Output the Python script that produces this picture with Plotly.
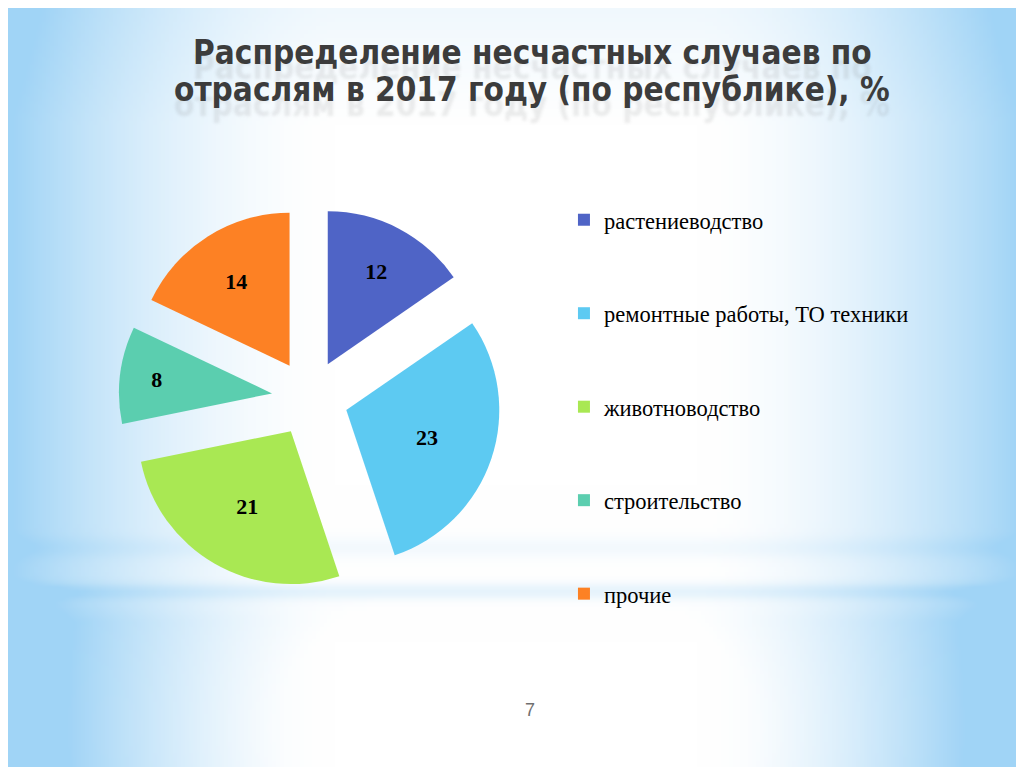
import base64
import struct
import zlib

import numpy as np
import plotly.graph_objects as go

# data
categories = ['растениеводство', 'ремонтные работы, ТО техники', 'животноводство',
              'строительство', 'прочие']
values = [12, 23, 21, 8, 14]
colors = ['#4F64C6', '#5DCAF2', '#A9E853', '#5BCEAF', '#FD8124']
title_lines = ['Распределение несчастных случаев по',
               'отраслям в 2017 году (по республике), %']
page_number = '7'

# the page body keeps its default 8px margin, so the figure is 16px smaller
W_PX, H_PX = 1016, 759


def make_png(arr):
    # tiny png encoder so the slide background can go in as a data uri
    h, w, _ = arr.shape
    raw = b''.join(b'\x00' + arr[i].tobytes() for i in range(h))

    def chunk(tag, data):
        c = struct.pack('>I', len(data)) + tag + data
        return c + struct.pack('>I', zlib.crc32(tag + data) & 0xffffffff)

    png = b'\x89PNG\r\n\x1a\n'
    png += chunk(b'IHDR', struct.pack('>IIBBBBB', w, h, 8, 2, 0, 0, 0))
    png += chunk(b'IDAT', zlib.compress(raw, 9))
    png += chunk(b'IEND', b'')
    return 'data:image/png;base64,' + base64.b64encode(png).decode()


# light blue slide background: blue edges, white middle, thin streaks near the bottom
bw, bh = 256, 192
xx, yy = np.meshgrid(np.linspace(0, 1, bw), np.linspace(0, 1, bh))
edge = np.clip(1 - np.minimum(xx, 1 - xx) / 0.32, 0, 1) ** 1.7
top = np.clip(1 - yy / 0.15, 0, 1) * 0.15
band = 0.26 * np.exp(-((yy - 0.770) / 0.011) ** 2) + 0.12 * np.exp(-((yy - 0.712) / 0.014) ** 2)
ell = np.sqrt(((xx - 0.5) / 0.24) ** 2 + ((yy - 0.95) / 0.2) ** 2)
lower = np.clip((yy - 0.76) / 0.05, 0, 1) * np.clip((ell - 1) / 1.4, 0, 1) * 0.45
wgt = np.clip(edge + top + band + lower, 0, 1)
blue = np.array([160, 212, 246])
white = np.array([255, 255, 255])
bg = (white * (1 - wgt[..., None]) + blue * wgt[..., None]).astype(np.uint8)

# legend rows are spaced far apart on the slide, padded with blank lines
legend_labels = [' <br><span style="font-size:22.5px">%s</span><br> ' % c for c in categories]

fig = go.Figure()
fig.add_trace(go.Pie(
    labels=legend_labels,
    values=values,
    sort=False,
    direction='clockwise',
    rotation=0,
    pull=[0.25] * len(values),
    marker=dict(colors=colors, line=dict(width=0)),
    textinfo='value',
    textposition='inside',
    insidetextorientation='horizontal',
    textfont=dict(family='Liberation Serif', size=22, color='black', weight='bold'),
    domain=dict(x=[0.1090, 0.4855], y=[0.2342, 0.7381]),
    hoverinfo='skip',
))

fig.update_layout(
    width=W_PX, height=H_PX,
    margin=dict(l=0, r=0, t=0, b=0),
    paper_bgcolor='white',
    plot_bgcolor='rgba(0,0,0,0)',
    showlegend=True,
    legend=dict(
        x=0.5472, y=0.7892, xanchor='left', yanchor='top',
        font=dict(family='Liberation Serif', size=23.2, color='black'),
        bgcolor='rgba(0,0,0,0)',
        traceorder='normal',
    ),
    images=[dict(source=make_png(bg), xref='paper', yref='paper', x=0, y=1,
                 sizex=1, sizey=1, xanchor='left', yanchor='top',
                 sizing='stretch', layer='below')],
)

# title with a faint "reflection" under each line
for i, line in enumerate(title_lines):
    fig.add_annotation(
        text='<span style="font-stretch:condensed"><b>%s</b></span>' % line,
        xref='paper', yref='paper',
        x=524 / W_PX, y=1 - (44.5 + 37 * i) / H_PX, xanchor='center', yanchor='middle',
        showarrow=False,
        font=dict(family='DejaVu Sans Condensed, DejaVu Sans', size=33, color='#3c3c3c',
                  shadow='0px 15px 3px rgba(110,110,110,0.13)'),
    )

fig.add_annotation(
    text=page_number, xref='paper', yref='paper', x=521.5 / W_PX, y=1 - 714 / H_PX,
    showarrow=False, font=dict(family='Liberation Sans', size=18, color='#6f6f6f'),
)

fig.write_html('out.html')
